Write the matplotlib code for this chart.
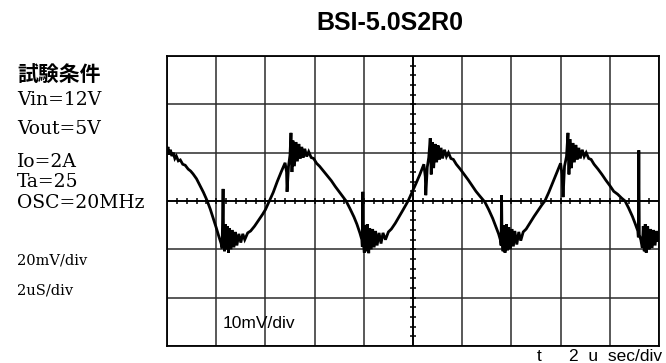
import numpy as np
import matplotlib
matplotlib.use("Agg")
import matplotlib.pyplot as plt

# scope trace in divisions (x: 0..10, y: -3..3)
t_div = [0.00, 0.02, 0.04, 0.07, 0.10, 0.13, 0.16, 0.19, 0.23, 0.27, 0.32, 0.37, 0.43, 0.48, 0.53,
         0.60, 0.67, 0.74, 0.81, 0.88, 0.94, 1.00, 1.05, 1.10,
         1.12, 1.13, 1.14, 1.15, 1.17, 1.19, 1.21, 1.23, 1.25, 1.27, 1.30, 1.33, 1.36, 1.39, 1.42,
         1.46, 1.50, 1.54, 1.58, 1.64, 1.70,
         1.78, 1.86, 1.94, 2.00, 2.08, 2.16, 2.24, 2.32, 2.40,
         2.43, 2.44, 2.47, 2.50, 2.52, 2.54, 2.56, 2.59, 2.62, 2.65, 2.68, 2.71, 2.74, 2.77, 2.80,
         2.84, 2.88, 2.93, 2.98,
         3.04, 3.10, 3.18, 3.26, 3.34, 3.42, 3.50, 3.58, 3.64, 3.72, 3.80, 3.86, 3.92, 3.96,
         3.97, 3.98, 3.99, 4.01, 4.03, 4.05, 4.07, 4.10, 4.12, 4.15, 4.18, 4.21, 4.24, 4.27, 4.31,
         4.35, 4.39, 4.44, 4.50, 4.56,
         4.64, 4.72, 4.80, 4.90, 4.98, 5.06, 5.14, 5.22,
         5.25, 5.26, 5.29, 5.32, 5.35, 5.37, 5.39, 5.42, 5.45, 5.48, 5.51, 5.54, 5.57, 5.60, 5.64,
         5.68, 5.72, 5.77, 5.82,
         5.88, 5.96, 6.04, 6.12, 6.20, 6.28, 6.36, 6.46, 6.54, 6.62, 6.68, 6.74, 6.78,
         6.79, 6.80, 6.81, 6.83, 6.85, 6.87, 6.90, 6.92, 6.95, 6.98, 7.01, 7.04, 7.07, 7.11, 7.15,
         7.19, 7.24, 7.30,
         7.38, 7.46, 7.54, 7.62, 7.68, 7.76, 7.84, 7.92, 8.00,
         8.03, 8.05, 8.08, 8.12, 8.15, 8.17, 8.19, 8.22, 8.25, 8.28, 8.31, 8.34, 8.37, 8.40, 8.44,
         8.48, 8.52, 8.57, 8.62,
         8.68, 8.76, 8.84, 8.92, 9.00, 9.08, 9.16, 9.24, 9.31, 9.38, 9.46, 9.52, 9.57,
         9.58, 9.59, 9.60, 9.63, 9.66, 9.68, 9.70, 9.72, 9.74, 9.77, 9.80, 9.83, 9.86, 9.89, 9.92,
         9.95, 9.98, 10.00]
v_div = [1.02, 1.12, 0.96, 1.06, 0.93, 1.00, 0.88, 0.93, 0.83, 0.85, 0.76, 0.74, 0.66, 0.62, 0.56,
         0.46, 0.32, 0.18, 0.02, -0.17, -0.36, -0.55, -0.72, -0.88,
         -0.98, -0.40, 0.25, -0.75, -1.04, -0.48, -1.00, -0.52, -1.07, -0.56, -1.00, -0.60, -0.96, -0.64, -0.92,
         -0.68, -0.86, -0.68, -0.80, -0.66, -0.62,
         -0.52, -0.40, -0.28, -0.18, 0.00, 0.18, 0.40, 0.60, 0.79,
         0.60, 0.19, 0.72, 0.95, 1.41, 0.60, 1.25, 0.72, 1.22, 0.82, 1.18, 0.88, 1.12, 0.90, 1.08,
         0.92, 1.02, 0.90, 0.88,
         0.78, 0.72, 0.62, 0.52, 0.42, 0.30, 0.19, 0.08, 0.00, -0.16, -0.33, -0.48, -0.66, -0.80,
         -0.95, 0.19, -0.85, -1.07, -0.50, -1.04, -0.48, -1.08, -0.56, -1.00, -0.58, -0.96, -0.62, -0.92, -0.66,
         -0.88, -0.66, -0.80, -0.64, -0.58,
         -0.46, -0.32, -0.18, 0.00, 0.18, 0.36, 0.55, 0.76,
         0.50, 0.12, 0.70, 0.90, 1.30, 0.55, 1.22, 0.68, 1.18, 0.80, 1.15, 0.86, 1.10, 0.88, 1.06,
         0.92, 1.00, 0.88, 0.86,
         0.76, 0.66, 0.55, 0.44, 0.32, 0.20, 0.10, -0.02, -0.18, -0.36, -0.52, -0.68, -0.82,
         -0.92, 0.12, -0.80, -1.04, -0.50, -1.07, -0.48, -1.02, -0.54, -1.00, -0.58, -0.94, -0.62, -0.90, -0.64,
         -0.82, -0.64, -0.58,
         -0.45, -0.32, -0.20, -0.08, 0.00, 0.18, 0.38, 0.58, 0.78,
         0.55, 0.08, 0.72, 0.92, 1.41, 0.55, 1.28, 0.68, 1.20, 0.80, 1.16, 0.86, 1.10, 0.88, 1.06,
         0.92, 1.00, 0.88, 0.86,
         0.76, 0.66, 0.55, 0.43, 0.32, 0.20, 0.14, 0.06, 0.00, -0.14, -0.32, -0.48, -0.62,
         -0.75, 1.05, -0.70, -0.80, -0.97, -0.52, -1.04, -0.48, -1.07, -0.52, -1.00, -0.58, -0.97, -0.60, -0.92,
         -0.62, -0.84, -0.66]

conditions = ["Vin=12V", "Vout=5V", "Io=2A", "Ta=25", "OSC=20MHz"]
cond_baselines = [105, 134, 167, 187, 208]   # pixel rows
scales = ["20mV/div", "2uS/div"]
scale_baselines = [265, 295]

W, H = 666, 363
fig = plt.figure(figsize=(W / 100, H / 100), dpi=100)
ax = fig.add_axes([167 / W, 1 - 346 / H, (659 - 167) / W, (346 - 56) / H])
ax.set_xlim(0, 10)
ax.set_ylim(-3, 3)

# graticule
ax.set_xticks(np.arange(0, 11, 1))
ax.set_yticks(np.arange(-3, 4, 1))
ax.grid(True, color="#2b2b2b", lw=1.1)
ax.tick_params(length=0, labelbottom=False, labelleft=False)
for s in ax.spines.values():
    s.set_color("black")
    s.set_linewidth(1.3)

# centre axes with small ticks
ax.axhline(0, color="black", lw=1.3)
ax.axvline(5, color="black", lw=1.3)
ax.vlines(np.arange(0.2, 10, 0.2), -0.07, 0.07, color="black", lw=1.1)
ax.hlines(np.arange(-2.8, 3, 0.2), 4.93, 5.07, color="black", lw=1.1)

ax.plot(t_div, v_div, color="black", lw=2.0, solid_joinstyle="miter")

# labels
fig.text(223 / W, 1 - 328 / H, "10mV/div", va="baseline", fontsize=12.5,
         family="Liberation Sans")
fig.text(390 / W, 1 - 30 / H, "BSI-5.0S2R0", ha="center", va="baseline",
         fontsize=18, fontweight="bold", family="Liberation Sans")
fig.text(17 / W, 1 - 82 / H, "試験条件", va="baseline", fontsize=15,
         fontweight="bold", family=["Noto Sans CJK JP", "DejaVu Sans"])
for txt, b in zip(conditions, cond_baselines):
    fig.text(17 / W, 1 - b / H, txt, va="baseline", fontsize=13.5, family="DejaVu Serif")
for txt, b in zip(scales, scale_baselines):
    fig.text(17 / W, 1 - b / H, txt, va="baseline", fontsize=10.5, family="DejaVu Serif")
fig.text(537 / W, 1 - 361 / H, "t", va="baseline", fontsize=12.5, family="Liberation Sans")
fig.text(662 / W, 1 - 361 / H, "2  u  sec/div", ha="right", va="baseline", fontsize=12.5,
         family="Liberation Sans")

fig.savefig("out.png", dpi=100)
